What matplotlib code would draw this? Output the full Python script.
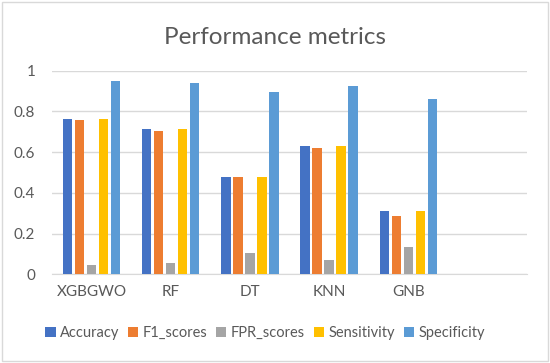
import matplotlib.pyplot as plt
import numpy as np
from matplotlib.patches import Rectangle

plt.rcParams['font.family'] = ['Lato', 'DejaVu Sans']

models = ['XGBGWO', 'RF', 'DT', 'KNN', 'GNB', '']
accuracy = [0.763, 0.712, 0.478, 0.632, 0.309]
f1_scores = [0.759, 0.705, 0.480, 0.619, 0.286]
fpr_scores = [0.044, 0.056, 0.103, 0.072, 0.136]
sensitivity = [0.763, 0.712, 0.478, 0.632, 0.309]
specificity = [0.949, 0.939, 0.894, 0.923, 0.859]

series = [('Accuracy', accuracy, '#4472C4'),
          ('F1_scores', f1_scores, '#ED7D31'),
          ('FPR_scores', fpr_scores, '#A5A5A5'),
          ('Sensitivity', sensitivity, '#FFC000'),
          ('Specificity', specificity, '#5B9BD5')]

txt = '#595959'
grid = '#D9D9D9'

fig = plt.figure(figsize=(5.5, 3.63), dpi=100)
ax = fig.add_axes([52 / 550, 1 - 274.3 / 363, 475 / 550, 203.6 / 363])

x = np.arange(len(accuracy))
pitch = 12 / 79
width = 9.3 / 79
for i, (name, vals, col) in enumerate(series):
    ax.bar(x + (i - 2) * pitch, vals, width, color=col, label=name, zorder=3)

ax.set_xlim(-0.5, len(models) - 0.5)
ax.set_ylim(0, 1)
ax.set_xticks(np.arange(len(models)))
ax.set_xticklabels(models)
ax.set_yticks([0, 0.2, 0.4, 0.6, 0.8, 1])
ax.set_yticklabels(['0', '0.2', '0.4', '0.6', '0.8', '1'])
ax.tick_params(length=0, colors=txt, labelsize=11)
ax.tick_params(axis='x', pad=8)
ax.tick_params(axis='y', pad=12)
ax.grid(axis='y', color=grid, lw=1, zorder=0)
ax.spines[['left', 'right', 'top']].set_visible(False)
ax.spines['bottom'].set_color(grid)
ax.set_axisbelow(True)

fig.text(0.5, 1 - 37 / 363, 'Performance metrics', ha='center', va='center',
         fontsize=17.5, color=txt)

fig.legend(loc='center', bbox_to_anchor=(265 / 550, 1 - 333 / 363), ncol=5,
           frameon=False, fontsize=10.5, labelcolor=txt, handlelength=0.7,
           handleheight=0.7, handletextpad=0.3, columnspacing=0.6)

fig.patches.append(Rectangle((2 / 550, 2 / 363), 546 / 550, 359 / 363,
                             transform=fig.transFigure, fill=False,
                             edgecolor=grid, lw=1))

fig.savefig('out.png', dpi=100, facecolor='white')
